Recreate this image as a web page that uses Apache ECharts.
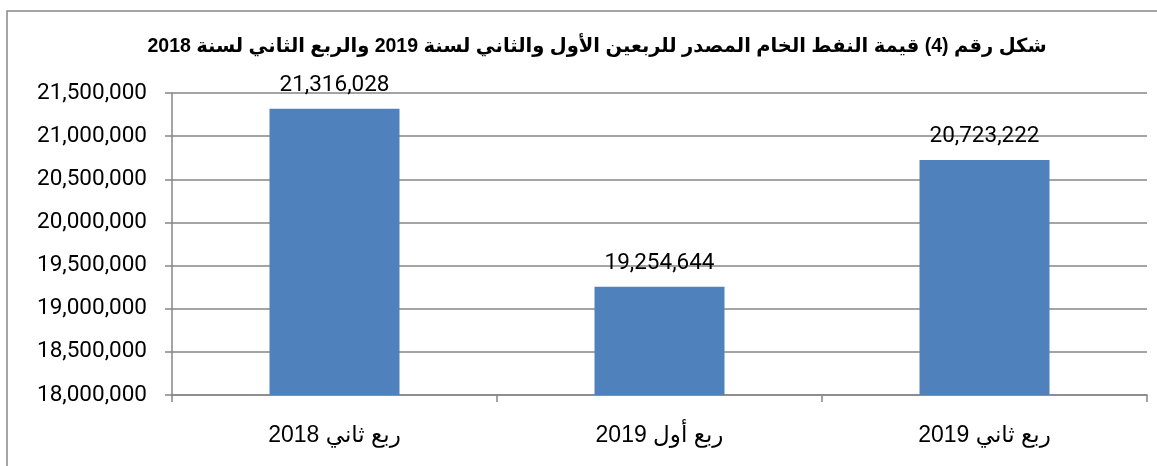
<!DOCTYPE html>
<html>
<head>
<meta charset="utf-8">
<script src="https://cdn.jsdelivr.net/npm/echarts@6/dist/echarts.min.js"></script>
<style>html,body{margin:0;padding:0;background:#fff;}#c{width:1157px;height:466px;}</style>
</head>
<body>
<div id="c"></div>
<script>
const titleText = 'شكل رقم (4) قيمة النفط الخام المصدر للربعين الأول والثاني لسنة 2019 والربع الثاني لسنة 2018';
const categories = ['ربع ثاني 2018', 'ربع أول 2019', 'ربع ثاني 2019'];
const values = [21316028, 19254644, 20723222];
const yMin = 18000000, yMax = 21500000, yStep = 500000;

const chart = echarts.init(document.getElementById('c'), null, {renderer: 'canvas'});
const fmt = v => v.toLocaleString('en-US');
chart.setOption({
  animation: false,
  backgroundColor: '#fff',
  title: {
    text: titleText,
    left: 592, top: 32, textAlign: 'center',
    textStyle: {fontFamily: 'Liberation Sans, DejaVu Sans, sans-serif', fontWeight: 'bold', fontSize: 19.5, color: '#000'}
  },
  graphic: [{
    type: 'rect', shape: {x: 7, y: 11, width: 1300, height: 600},
    style: {fill: 'none', stroke: '#888', lineWidth: 1.5}, silent: true
  }],
  grid: {left: 172, right: 10, top: 93, bottom: 71},
  xAxis: {
    type: 'category', data: categories,
    axisLine: {lineStyle: {color: '#868686', width: 1.5}},
    axisTick: {show: true, length: 7, alignWithLabel: false, lineStyle: {color: '#868686', width: 1.5}},
    axisLabel: {margin: 29, color: '#000', fontSize: 23, fontFamily: 'Liberation Sans, DejaVu Sans, sans-serif'}
  },
  yAxis: {
    type: 'value', min: yMin, max: yMax, interval: yStep,
    axisLine: {show: true, lineStyle: {color: '#868686', width: 1.5}},
    axisTick: {show: true, length: 7, lineStyle: {color: '#868686', width: 1.5}},
    splitLine: {show: true, lineStyle: {color: '#868686', width: 1.5}},
    axisLabel: {formatter: v => fmt(v), color: '#000', fontSize: 22.5, fontFamily: 'Roboto, sans-serif', margin: 25}
  },
  series: [{
    type: 'bar', data: values, barWidth: '40%',
    itemStyle: {color: '#4F81BD'},
    label: {show: true, position: 'top', distance: 12, formatter: p => fmt(p.value), color: '#000', fontSize: 22.5, fontFamily: 'Roboto, sans-serif'}
  }]
});
</script>
</body>
</html>
